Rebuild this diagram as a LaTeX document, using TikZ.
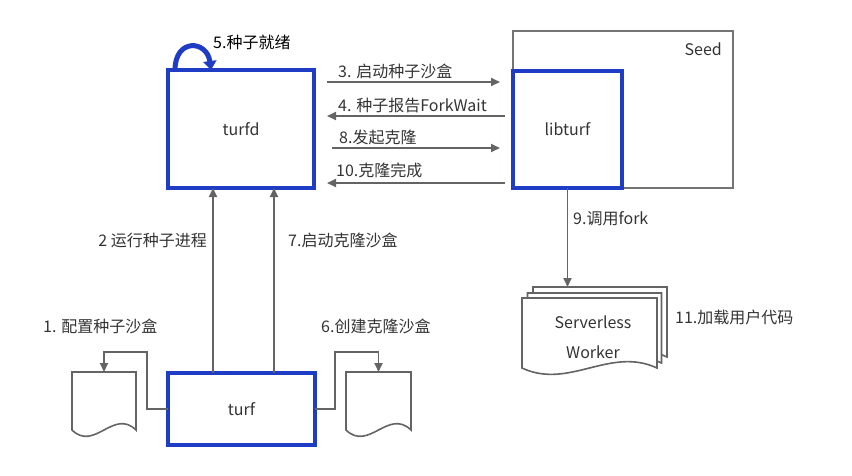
\documentclass[tikz,border=0pt]{standalone}
\usepackage{fontspec}
\setmainfont{Noto Sans CJK SC}
\usetikzlibrary{arrows.meta,calc}
\definecolor{bblue}{RGB}{30,60,196}
\definecolor{lgrey}{RGB}{100,100,100}
\definecolor{tgrey}{RGB}{51,51,51}
\tikzset{
  bluebox/.style={draw=bblue,line width=3.5pt,fill=white,inner sep=0,outer sep=0,font=\fontsize{16}{18}\selectfont,text=tgrey},
  arr/.style={draw=lgrey,line width=1.8pt,-{Triangle[length=9pt,width=8pt]}},
  lbl/.style={font=\fontsize{16}{18}\selectfont,text=tgrey,inner sep=0},
  docline/.style={draw=lgrey,line width=1.6pt,fill=white},
  docnode/.style={inner sep=0,outer sep=0,draw=none},
}
\newcommand{\docbody}[1]{%
  \path[docline] (#1.south west) -- (#1.north west) -- (#1.north east) -- (#1.south east)
    .. controls ($(#1.south east)!0.35!(#1.south west)+(0,-22)$) and ($(#1.south east)!0.65!(#1.south west)+(0,22)$) .. (#1.south west) -- cycle;}
\begin{document}
\begin{tikzpicture}[x=1pt,y=-1pt]
\useasboundingbox (0,0) rectangle (852,475);
% Seed container
\node[draw=lgrey!90,line width=1.4pt,minimum width=220pt,minimum height=157pt,inner sep=0,outer sep=0] (seed) at (623,109.5) {};
\node[lbl,anchor=east] (seedl) at (722,49) {Seed};
% main boxes
\node[bluebox,minimum width=146pt,minimum height=118pt] (turfd) at (241,129) {turfd};
\node[bluebox,minimum width=109pt,minimum height=117pt] (libturf) at (567.5,129.5) {libturf};
\node[bluebox,minimum width=147pt,minimum height=72pt] (turf) at (241.5,409) {turf};
% self loop
\draw[draw=bblue,line width=5pt,-{Triangle[length=9pt,width=13pt]}] ([xshift=-66]turfd.north) .. controls ++(0,-32) and ++(-4,-30) .. ([xshift=-30]turfd.north);
\node[lbl,anchor=west,text=black] (l5) at (213,42) {5.种子就绪};
% horizontal arrows
\coordinate (y3) at (0,82);
\coordinate (y4) at (0,116);
\coordinate (y8) at (0,148);
\coordinate (y10) at (0,183);
\draw[arr] ($(turfd.east |- y3)+(13,0)$) -- ($(libturf.west |- y3)+(-13,0)$);
\draw[arr] ($(libturf.west |- y4)+(-8,0)$) -- ($(turfd.east |- y4)+(13,0)$);
\draw[arr] ($(turfd.east |- y8)+(18,0)$) -- ($(libturf.west |- y8)+(-13,0)$);
\draw[arr] ($(libturf.west |- y10)+(-8,0)$) -- ($(turfd.east |- y10)+(13,0)$);
\node[lbl,anchor=west] (l3) at (338,71) {3. 启动种子沙盒};
\node[lbl,anchor=west] (l4) at (338,105) {4. 种子报告ForkWait};
\node[lbl,anchor=west] (l8) at (339,137) {8.发起克隆};
\node[lbl,anchor=west] (l10) at (336,170) {10.克隆完成};
% vertical arrows turf -> turfd
\draw[arr] ([xshift=-28.5]turf.north) -- ([xshift=-28.5]turf.north |- turfd.south);
\draw[arr] ([xshift=32.5]turf.north) -- ([xshift=32.5]turf.north |- turfd.south);
\node[lbl,anchor=east] (l2) at (207,240) {2 运行种子进程};
\node[lbl,anchor=west] (l7) at (288,240) {7.启动克隆沙盒};
% documents
\node[docnode,minimum width=64pt,minimum height=58pt] (doc1) at (104,401) {};
\node[docnode,minimum width=65pt,minimum height=58pt] (doc6) at (378.5,401) {};
\docbody{doc1}
\docbody{doc6}
\draw[arr] (turf.west) -- ++(-21,0) -- ++(0,-57) -| (doc1.north);
\draw[arr] (turf.east) -- ++(20,0) -- ++(0,-57) -| (doc6.north);
\node[lbl,anchor=west] (l1) at (43,326) {1. 配置种子沙盒};
\node[lbl,anchor=west] (l6) at (321,326) {6.创建克隆沙盒};
% serverless worker stack
\node[docnode,minimum width=134pt,minimum height=70pt] (wback) at (600,322) {};
\node[docnode,minimum width=134pt,minimum height=70pt] (wmid) at (594.5,328) {};
\node[docnode,minimum width=135pt,minimum height=70pt,align=center,font=\fontsize{16}{30}\selectfont,text=tgrey] (wfront) at (589.5,333) {};
\docbody{wback}
\docbody{wmid}
\docbody{wfront}
\node[lbl,align=center] (wtext) at (593,337) {Serverless\\[12pt]Worker};
\draw[arr] (libturf.south) -- (libturf.south |- wback.north);
\node[lbl,anchor=west] (l9) at (573,219) {9.调用fork};
\node[lbl,anchor=west] (l11) at (675,317) {11.加载用户代码};
\end{tikzpicture}
\end{document}
